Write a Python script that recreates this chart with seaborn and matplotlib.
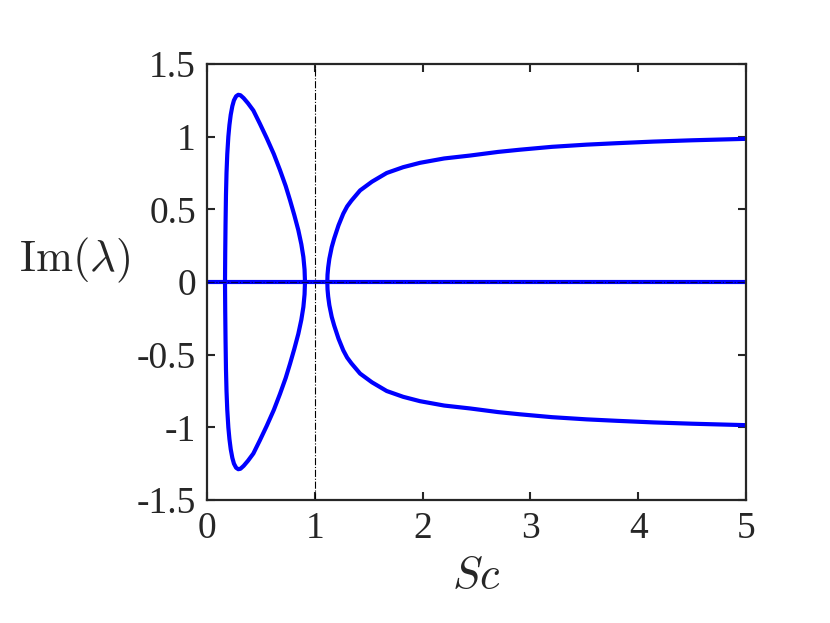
import numpy as np
import pandas as pd
import matplotlib
matplotlib.use('Agg')
import matplotlib.pyplot as plt
import seaborn as sns

# values
# left loop: upper half (Sc, Im) going from the left crossing over the peak to the right crossing
loop_sc = [0.167, 0.169, 0.172, 0.176, 0.181, 0.188, 0.198, 0.208, 0.22, 0.235, 0.25, 0.27,
           0.29, 0.31, 0.34, 0.38, 0.43, 0.49, 0.554, 0.62, 0.677, 0.73, 0.77, 0.81,
           0.847, 0.875, 0.894, 0.905, 0.909]
loop_im = [0.0, 0.2, 0.4, 0.6, 0.75, 0.88, 1.0, 1.08, 1.15, 1.21, 1.25, 1.278,
           1.288, 1.285, 1.265, 1.23, 1.18, 1.09, 0.99, 0.88, 0.77, 0.66, 0.563, 0.46,
           0.357, 0.26, 0.172, 0.085, 0.0]

# right branch (upper half; lower half is its mirror image)
branch_sc = [1.116, 1.118, 1.124, 1.135, 1.157, 1.18, 1.22, 1.264, 1.30, 1.34, 1.42,
             1.53, 1.667, 1.82, 1.976, 2.2, 2.44, 2.7, 2.9, 3.2, 3.52, 3.8, 4.14,
             4.5, 5.0]
branch_im = [0.0, 0.05, 0.10, 0.16, 0.24, 0.30, 0.39, 0.47, 0.52, 0.56, 0.63,
             0.69, 0.75, 0.79, 0.82, 0.85, 0.87, 0.895, 0.91, 0.93, 0.945, 0.955, 0.966,
             0.975, 0.985]

zero_sc = [0.0, 5.0]
zero_im = [0.0, 0.0]

x_ticks = [0, 1, 2, 3, 4, 5]
y_ticks = [-1.5, -1, -0.5, 0, 0.5, 1, 1.5]
y_ticklabels = ['-1.5', '-1', '-0.5', '0', '0.5', '1', '1.5']

# closed loop and both branch halves
loop_x = loop_sc + loop_sc[::-1]
loop_y = loop_im + [-v for v in loop_im[::-1]]
up = pd.DataFrame({'Sc': branch_sc, 'Im': branch_im})
down = pd.DataFrame({'Sc': branch_sc, 'Im': [-v for v in branch_im]})
loop = pd.DataFrame({'Sc': loop_x, 'Im': loop_y})

sns.set_style('ticks')
plt.rcParams['font.family'] = ['Liberation Serif', 'DejaVu Serif']
plt.rcParams['mathtext.fontset'] = 'cm'
plt.rcParams['axes.unicode_minus'] = False

fig = plt.figure(figsize=(8.3, 6.23), dpi=100)
ax = fig.add_axes([0.2494, 0.1974, 0.6494, 0.6999])

blue = '#0000ff'
ax.axvline(1.0, color='black', lw=0.8, ls='-.', zorder=1)
for d in (loop, up, down):
    sns.lineplot(data=d, x='Sc', y='Im', sort=False, estimator=None,
                 color=blue, lw=3, ax=ax)
sns.lineplot(x=zero_sc, y=zero_im, color=blue, lw=3, ax=ax)
ax.plot(zero_sc, zero_im, color='#000055', lw=0.8, ls='-.', zorder=3)

ax.set_xlim(0, 5)
ax.set_ylim(-1.5, 1.5)
ax.set_xticks(x_ticks)
ax.set_xticklabels([str(t) for t in x_ticks])
ax.set_yticks(y_ticks)
ax.set_yticklabels(y_ticklabels)
ax.tick_params(direction='in', length=6, width=1.5, top=True, right=True,
               labelsize=27, colors='#262626', pad=8)
for s in ax.spines.values():
    s.set_linewidth(1.6)
    s.set_color('#262626')
    s.set_visible(True)

ax.set_xlabel(r'$Sc$', fontsize=32, color='#262626', labelpad=8)
ax.set_ylabel(r'$\mathrm{Im}(\lambda)$', fontsize=32, color='#262626',
              rotation=0, ha='right', va='center')
ax.yaxis.set_label_coords(-0.143, 0.55)

fig.savefig('out.png', dpi=100)
